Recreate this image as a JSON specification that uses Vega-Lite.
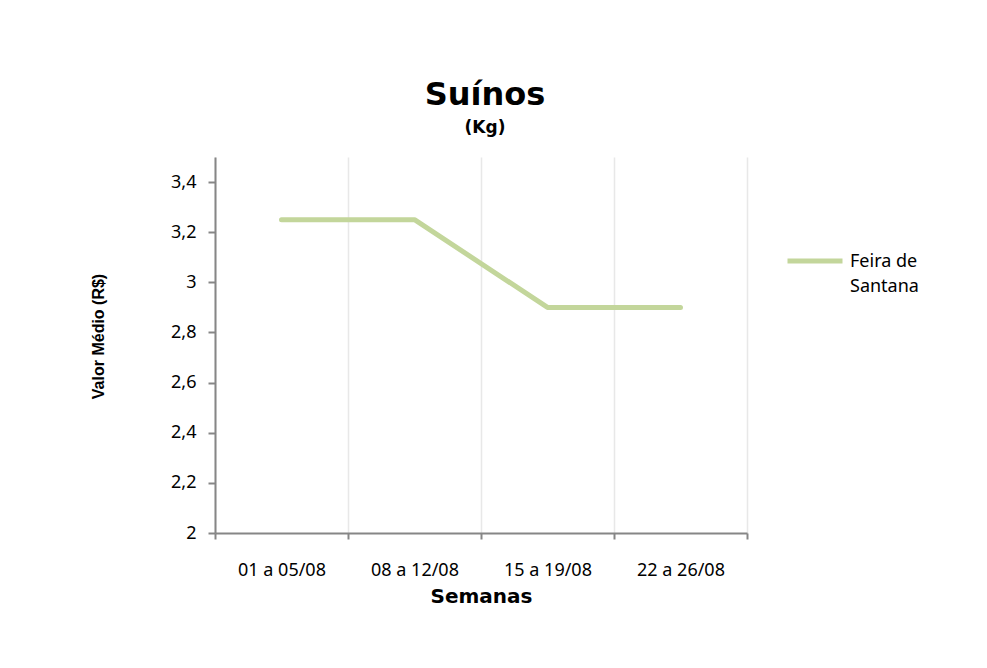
{
  "$schema": "https://vega.github.io/schema/vega-lite/v6.json",
  "autosize": {"type": "none"},
  "width": 532,
  "height": 376,
  "padding": {"left": 215, "top": 157, "right": 240, "bottom": 135},
  "background": "white",
  "title": {
    "text": "Suínos",
    "subtitle": "(Kg)",
    "anchor": "middle",
    "font": "DejaVu Sans",
    "fontSize": 32,
    "fontWeight": "bold",
    "color": "black",
    "subtitleFont": "DejaVu Sans",
    "subtitleFontSize": 17,
    "subtitleFontWeight": "bold",
    "subtitleColor": "black",
    "subtitlePadding": 8,
    "offset": 20,
    "dx": 4
  },
  "data": {
    "values": [
      {"semana": "01 a 05/08", "valor": 3.25, "serie": "Feira de Santana"},
      {"semana": "08 a 12/08", "valor": 3.25, "serie": "Feira de Santana"},
      {"semana": "15 a 19/08", "valor": 2.9, "serie": "Feira de Santana"},
      {"semana": "22 a 26/08", "valor": 2.9, "serie": "Feira de Santana"}
    ]
  },
  "mark": {"type": "line", "strokeWidth": 5, "strokeCap": "round", "strokeJoin": "round"},
  "encoding": {
    "x": {
      "field": "semana",
      "type": "nominal",
      "sort": null,
      "bandPosition": 0.5,
      "scale": {"type": "band", "paddingInner": 0, "paddingOuter": 0},
      "axis": {
        "title": "Semanas",
        "titleFont": "DejaVu Sans",
        "titleFontSize": 20,
        "titleFontWeight": "bold",
        "titleColor": "black",
        "titlePadding": 7,
        "labelAngle": 0,
        "labelFont": "Noto Sans",
        "labelFontSize": 18,
        "labelColor": "black",
        "labelPadding": 22,
        "tickBand": "extent",
        "tickSize": 6,
        "tickColor": "#868686",
        "tickWidth": 2,
        "domainColor": "#868686",
        "domainWidth": 2,
        "grid": true,
        "gridColor": "#e8e8e8",
        "gridWidth": 1.5
      }
    },
    "y": {
      "field": "valor",
      "type": "quantitative",
      "scale": {"domain": [2, 3.5], "nice": false, "zero": false},
      "axis": {
        "title": "Valor Médio (R$)",
        "titleFont": "Liberation Sans",
        "titleFontSize": 16,
        "titleFontWeight": "bold",
        "titleColor": "black",
        "titlePadding": 64,
        "titleY": 179,
        "values": [2, 2.2, 2.4, 2.6, 2.8, 3, 3.2, 3.4],
        "labelExpr": "replace(format(datum.value, '.1~f'), '.', ',')",
        "labelFont": "Noto Sans",
        "labelFontSize": 18,
        "labelColor": "black",
        "labelPadding": 12,
        "tickSize": 7,
        "tickColor": "#868686",
        "tickWidth": 2,
        "domainColor": "#868686",
        "domainWidth": 2,
        "grid": false
      }
    },
    "color": {
      "field": "serie",
      "type": "nominal",
      "scale": {"range": ["#c3d69b"]},
      "legend": {
        "title": null,
        "orient": "none",
        "legendX": 570,
        "legendY": 74,
        "symbolType": "stroke",
        "symbolSize": 3025,
        "symbolStrokeWidth": 5,
        "labelFont": "Noto Sans",
        "labelFontSize": 18,
        "labelColor": "black",
        "labelOffset": 5,
        "labelBaseline": "alphabetic",
        "labelExpr": "['Feira de', 'Santana']",
        "labelLimit": 200,
        "encode": {"labels": {"update": {"dy": {"value": 6}, "lineHeight": {"value": 25}}}}
      }
    }
  },
  "config": {
    "view": {"stroke": null}
  }
}
